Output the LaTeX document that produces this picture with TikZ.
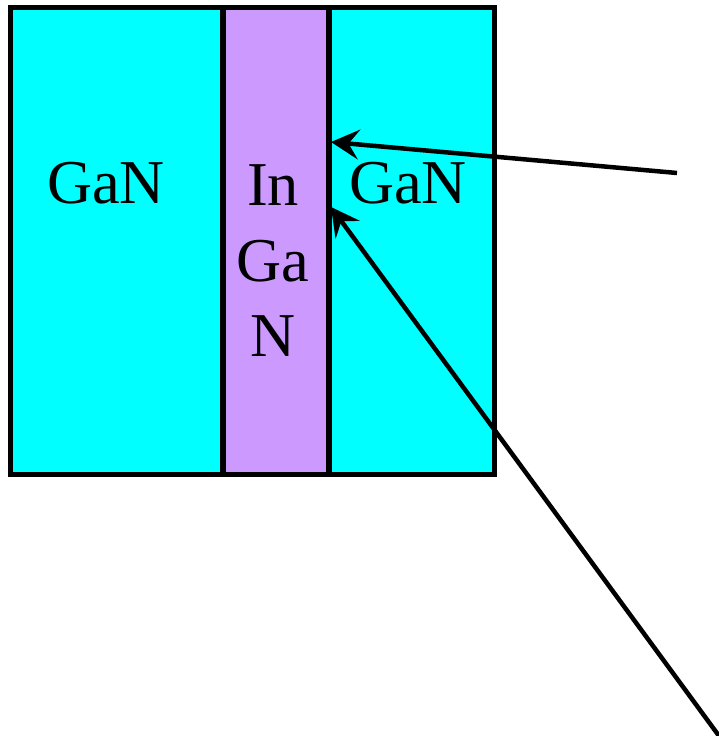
\documentclass[tikz,border=0pt]{standalone}
\usepackage{fontspec}
\setmainfont{Liberation Serif}
\usetikzlibrary{arrows.meta}
\definecolor{gancyan}{HTML}{00FFFF}
\definecolor{inganviolet}{HTML}{CC99FF}

\begin{document}
\begin{tikzpicture}[x=0.02cm, y=-0.02cm,
          layer/.style={rectangle, draw=black, line width=0.1cm, inner sep=0pt,
                        minimum height=9.36cm},
          lbl/.style={font=\fontsize{35.5}{43}\selectfont, align=center},
          arr/.style={-{Stealth[length=16pt, width=17pt, inset=6pt]}, line width=0.09cm}
        ]
        \useasboundingbox (0,0) rectangle (719,736);

        % layers
        \node[layer, fill=gancyan, minimum width=4.26cm] (left) at (116.5,241) {};
        \node[layer, fill=gancyan, minimum width=3.32cm] (right) at (412,241) {};
        \node[layer, fill=inganviolet, minimum width=2.12cm] (strip) at (276,241) {};

        \node[lbl] (lgan) at (106,183) {GaN};
        \node[lbl] (rgan) at (408,183) {GaN};
        \node[lbl] (ingan) at (273,261) {In\\Ga\\N};

        % pointers
        \coordinate (srcA) at (677,173);
        \coordinate (srcB) at (722,740);
        \coordinate (tipA) at (331,142);
        \coordinate (tipB) at (331,207);
        \draw[arr] (srcA) -- (tipA);
        \draw[arr] (srcB) -- (tipB);
      \end{tikzpicture}
\end{document}
